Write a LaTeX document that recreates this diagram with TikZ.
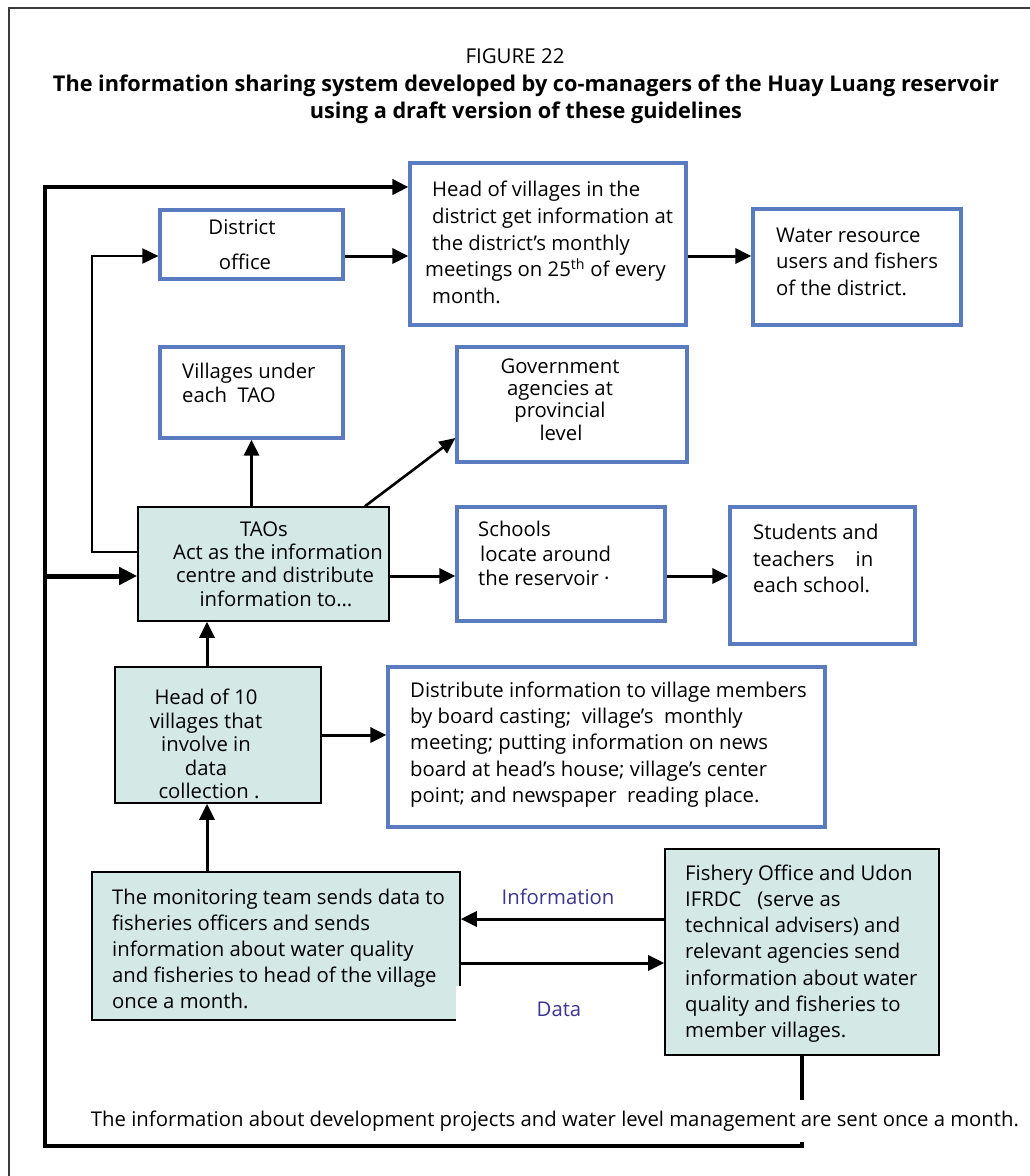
\documentclass[tikz,border=0pt]{standalone}
\usepackage{fontspec}
\setmainfont{Open Sans}
\usetikzlibrary{arrows.meta,calc}
\definecolor{boxblue}{HTML}{5B7BC0}
\definecolor{boxfill}{HTML}{D4E8E6}
\definecolor{labelink}{HTML}{3D3592}
\definecolor{framegray}{HTML}{3A3A3A}
\newcommand{\bodyfont}[1]{\fontsize{20.3}{#1}\selectfont}
\begin{document}
\begin{tikzpicture}[x=1pt,y=-1pt,
  bluebox/.style={draw=boxblue,line width=3.2pt,fill=white,inner sep=0pt},
  tealbox/.style={draw=black,line width=1.6pt,fill=boxfill,inner sep=0pt},
  txt/.style={inner sep=0pt,align=left,anchor=west},
  ctxt/.style={inner sep=0pt,align=center},
  arr/.style={line width=3pt,-{Triangle[length=16pt,width=15pt]}},
  bigarr/.style={line width=5pt,-{Triangle[length=18pt,width=17pt]}},
  thinarr/.style={line width=2pt,-{Triangle[length=16pt,width=15pt]}},
  loopline/.style={line width=4.5pt},
]
\useasboundingbox (0,0) rectangle (1030,1176);

% page frame
\draw[framegray,line width=1.6pt] (9,1176) -- (9,8) -- (1030,8);

% heading
\node[ctxt,font=\fontsize{20.5}{27}\selectfont] (fig) at (515,56) {FIGURE 22};
\node[ctxt,font=\fontsize{21.7}{27}\bfseries\selectfont] (title) at (526,99)
  {The information sharing system developed by co-managers of the Huay Luang reservoir\\
   using a draft version of these guidelines};

% boxes
\node[bluebox,minimum width=183pt,minimum height=69pt]  (district) at (251.5,244.5) {};
\node[bluebox,minimum width=276pt,minimum height=162pt] (head)     at (548,244) {};
\node[bluebox,minimum width=208pt,minimum height=116pt] (water)    at (857,267) {};
\node[bluebox,minimum width=183pt,minimum height=91pt]  (villages) at (251.5,392.5) {};
\node[bluebox,minimum width=230pt,minimum height=115pt] (gov)      at (572,404.5) {};
\node[tealbox,minimum width=251pt,minimum height=114pt] (taos)     at (263.5,564) {};
\node[bluebox,minimum width=208pt,minimum height=114pt] (schools)  at (561,564) {};
\node[bluebox,minimum width=185pt,minimum height=137pt] (students) at (822.5,575.5) {};
\node[tealbox,minimum width=206pt,minimum height=136pt] (headten)  at (218,735) {};
\node[bluebox,minimum width=437pt,minimum height=160pt] (distrib)  at (606.5,747) {};
\node[tealbox,minimum width=368pt,minimum height=148pt] (monitor)  at (276,946) {};
\node[tealbox,minimum width=274pt,minimum height=206pt] (fishery)  at (802,952) {};

% box texts
\node[ctxt,font=\bodyfont{35}] (districtT) at (242,244.5) {District\\ \hspace*{6pt}office};
\node[txt,font=\bodyfont{26.75}] (headT) at (425,242.5)
  {\hspace*{7pt}Head of villages in the\\
   \hspace*{7pt}district get information at\\
   \hspace*{7pt}the district’s monthly\\
   meetings on 25\textsuperscript{th} of every\\
   \hspace*{7pt}month.};
\node[txt,font=\bodyfont{26.5}] (waterT) at (776,261.5)
  {Water resource\\ users and fishers\\ of the district.};
\node[txt,font=\bodyfont{24}] (villagesT) at (182,383) {Villages under\\ each\ \ TAO};
\node[ctxt,font=\bodyfont{22.3}] (govT) at (560,399.5)
  {Government\\ agencies at\\ provincial\\ \hspace*{2pt}level};
\node[ctxt,font=\bodyfont{23.3}] (taosT) at (275,564)
  {TAOs\hspace*{22pt}\\ \hspace*{6pt}Act as the information\\ centre and distribute\\ \hspace*{2pt}information to\dots};
\node[txt,font=\bodyfont{24.5}] (schoolsT) at (478,553.5)
  {Schools\\ \hspace*{2pt}locate around\\ the reservoir ·};
\node[txt,font=\bodyfont{26.5}] (studentsT) at (753,558.5)
  {Students and\\ teachers\ \ \ \ in\\ each school.};
\node[ctxt,font=\bodyfont{23.5}] (headtenT) at (206,744)
  {Head of 10\\ villages that\\ involve in\\ data\\ \hspace*{6pt}collection .};
\node[txt,font=\bodyfont{26.25}] (distribT) at (410,744.5)
  {Distribute information to village members\\
   by board casting;\ \ village’s\ \ monthly\\
   meeting; putting information on news\\
   board at head’s house; village’s center\\
   point; and newspaper\ \ reading place.};
\node[txt,font=\bodyfont{26}] (monitorT) at (112,949)
  {The monitoring team sends data to\\
   fisheries officers and sends\\
   information about water quality\\
   and fisheries to head of the village\\
   once a month.};
\node[txt,font=\bodyfont{26.2}] (fisheryT) at (685,953.5)
  {Fishery Office and Udon\\
   IFRDC\ \ \ (serve as\\
   technical advisers) and\\
   relevant agencies send\\
   information about water\\
   quality and fisheries to\\
   member villages.};

% attachment points
\coordinate (dOut)  at ([yshift=-11.5pt]district.east);
\coordinate (hOut)  at ([yshift=-12pt]head.east);
\coordinate (hTop)  at ([yshift=57pt]head.west);
\coordinate (tIn)   at ([yshift=-12pt]taos.west);
\coordinate (tLeft) at ([yshift=12pt]taos.west);
\coordinate (tOut)  at ([yshift=-12pt]taos.east);
\coordinate (tGov)  at ([xshift=101.5pt]taos.north);
\coordinate (gIn)   at ([yshift=-33.5pt]gov.west);
\coordinate (hUp)   at ([xshift=-11pt]headten.north);
\coordinate (fInfo) at ([yshift=33pt]fishery.west);
\coordinate (mData) at ([yshift=-17pt]monitor.east);
\coordinate (loopCorner) at (45,1146);
\coordinate (thinCorner) at (92,0);

% outer feedback loop from the fishery office
\draw[loopline,line cap=rect] (fishery.south) |- (loopCorner);
\draw[loopline,-{Triangle[length=16pt,width=15pt]}] (loopCorner) |- (hTop);
\draw[bigarr] (loopCorner |- tIn) -- (tIn);

% thin line from TAOs to the district office
\draw[thinarr] (tLeft) -| (thinCorner |- dOut) -- (dOut -| district.west);

% remaining connectors
\draw[arr] (dOut) -- (dOut -| head.west);
\draw[arr] (hOut) -- (hOut -| water.west);
\draw[arr] (villages.south |- taos.north) -- (villages.south);
\draw[line width=2.6pt,-{Triangle[length=16pt,width=14pt]}] (tGov) -- (gIn);
\draw[arr] (tOut) -- (tOut -| schools.west);
\draw[arr] (tOut -| schools.east) -- (tOut -| students.west);
\draw[arr] (hUp) -- (hUp |- taos.south);
\draw[arr] (headten.east) -- (headten.east -| distrib.west);
\draw[arr] (hUp |- monitor.north) -- (hUp |- headten.south);
\draw[arr] (fInfo) -- (fInfo -| monitor.east);
\draw[arr] (mData) -- (mData -| fishery.west);

% arrow labels
\node[ctxt,font=\fontsize{20.3}{24}\selectfont,text=labelink] (infoL) at (558,897) {Information};
\node[fill=white,inner sep=0pt,minimum width=206pt,minimum height=46pt,
      font=\fontsize{20.3}{24}\selectfont,text=labelink] (dataL) at (559,1009) {Data};

% note along the bottom of the loop
\node[fill=white,inner sep=0pt,minimum height=42pt,font=\fontsize{20.3}{24}\selectfont]
  (note) at (555,1121)
  {The information about development projects and water level management are sent once a month.};
\end{tikzpicture}
\end{document}
